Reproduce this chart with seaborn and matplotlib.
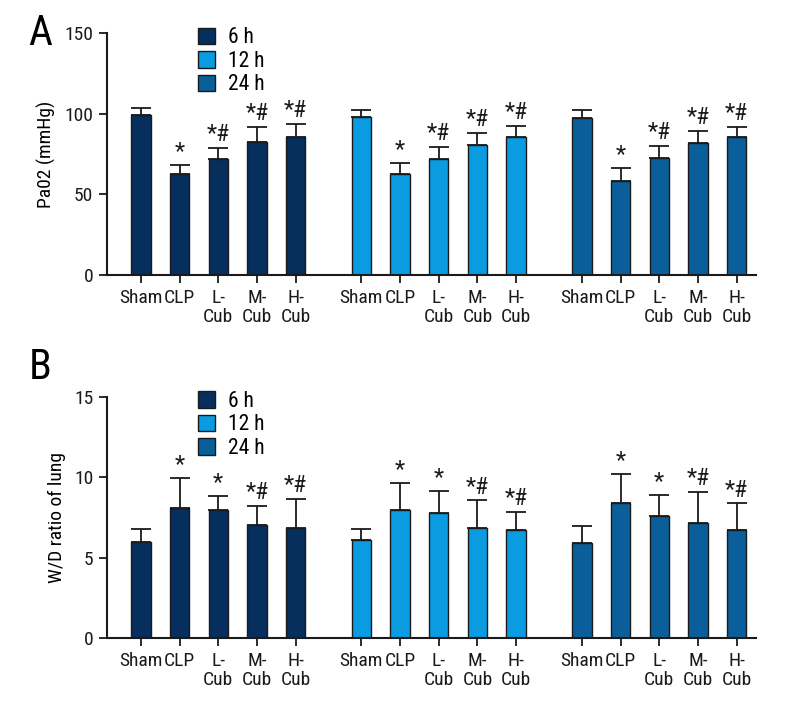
import matplotlib
matplotlib.use('Agg')
import matplotlib.pyplot as plt
from matplotlib.patches import Patch
from matplotlib import font_manager
import numpy as np
import pandas as pd
import seaborn as sns

groups = ['Sham', 'CLP', 'L-Cub', 'M-Cub', 'H-Cub']
tick_labels = ['Sham', 'CLP', 'L-\nCub', 'M-\nCub', 'H-\nCub']
times = ['6 h', '12 h', '24 h']

# Panel A: PaO2 (mmHg), mean and SD per time point
pao2_6h = [99.5, 62.4, 71.8, 82.6, 85.8]
pao2_6h_sd = [4.2, 5.8, 6.8, 9.2, 7.6]
pao2_12h = [98.2, 62.4, 72.1, 80.8, 85.8]
pao2_12h_sd = [4.1, 7.2, 7.5, 7.2, 6.8]
pao2_24h = [97.5, 58.5, 72.3, 81.6, 85.6]
pao2_24h_sd = [4.8, 8.0, 7.5, 7.5, 6.2]
marks_a = ['', '*', '*#', '*#', '*#']

# Panel B: W/D ratio of lung
wd_6h = [5.96, 8.09, 7.93, 7.03, 6.85]
wd_6h_sd = [0.82, 1.87, 0.91, 1.15, 1.78]
wd_12h = [6.12, 7.95, 7.78, 6.85, 6.72]
wd_12h_sd = [0.64, 1.70, 1.33, 1.70, 1.10]
wd_24h = [5.91, 8.40, 7.59, 7.16, 6.70]
wd_24h_sd = [1.06, 1.79, 1.29, 1.89, 1.66]
marks_b = ['', '*', '*', '*#', '*#']

colors = ['#062f5e', '#0a9be0', '#0a5f9b']
group_gap = 5.7

# narrow sans face if one is present, otherwise Roboto
installed = {f.name for f in font_manager.fontManager.ttflist}
families = [f for f in ['Roboto Condensed', 'Liberation Sans Narrow', 'Roboto']
            if f in installed] + ['DejaVu Sans']
plt.rcParams['font.family'] = families


def make_frame(means, sds):
    rows = []
    for t, (m, s) in enumerate(zip(means, sds)):
        for i, g in enumerate(groups):
            rows.append({'time': times[t], 'group': g, 'pos': i + t * group_gap,
                         'mean': m[i], 'sd': s[i]})
    return pd.DataFrame(rows)


def draw_panel(ax, df, marks, ylim, yticks, ylabel, step):
    sns.barplot(data=df, x='pos', y='mean', hue='time', hue_order=times,
                palette=colors, saturation=1, native_scale=True, dodge=False,
                width=0.5, errorbar=None, edgecolor='#1a1a1a', linewidth=1.0,
                ax=ax, legend=False)
    ax.errorbar(df['pos'], df['mean'], yerr=[np.zeros(len(df)), df['sd']],
                fmt='none', ecolor='#1a1a1a', elinewidth=1.3, capsize=7,
                capthick=1.3, zorder=1)
    for _, r in df.iterrows():
        lab = marks[groups.index(r['group'])]
        if lab:
            ax.text(r['pos'], r['mean'] + r['sd'] + step * 0.008, lab,
                    ha='center', va='bottom', fontsize=17, color='#1a1a1a')
    ax.set_xlim(-0.87, 4 + 2 * group_gap + 0.5)
    ax.set_ylim(*ylim)
    ax.set_yticks(yticks)
    ax.set_xticks(df['pos'])
    ax.set_xticklabels(tick_labels * 3, fontsize=14, linespacing=1.05)
    ax.tick_params(axis='both', direction='out', length=6, width=1.3,
                   colors='#1a1a1a', labelsize=14, pad=4)
    ax.set_xlabel('')
    ax.set_ylabel(ylabel, fontsize=14, labelpad=6)
    sns.despine(ax=ax)
    for sp in ['left', 'bottom']:
        ax.spines[sp].set_linewidth(1.5)
        ax.spines[sp].set_color('#1a1a1a')
    handles = [Patch(facecolor=c, edgecolor='#1a1a1a', linewidth=1.0)
               for c in colors]
    ax.legend(handles, times, loc='upper left', bbox_to_anchor=(0.127, 1.06),
              frameon=False, fontsize=15.5, handlelength=0.8, handleheight=0.8,
              handletextpad=0.6, labelspacing=0.12, borderaxespad=0)


fig = plt.figure(figsize=(8, 7.2), dpi=100)
ax_a = fig.add_axes([0.134, 0.618, 0.811, 0.336])
ax_b = fig.add_axes([0.134, 0.114, 0.811, 0.335])

df_a = make_frame([pao2_6h, pao2_12h, pao2_24h],
                  [pao2_6h_sd, pao2_12h_sd, pao2_24h_sd])
df_b = make_frame([wd_6h, wd_12h, wd_24h], [wd_6h_sd, wd_12h_sd, wd_24h_sd])

draw_panel(ax_a, df_a, marks_a, (0, 150), [0, 50, 100, 150], 'Pa02 (mmHg)', 150)
draw_panel(ax_b, df_b, marks_b, (0, 15), [0, 5, 10, 15], 'W/D ratio of lung', 15)

fig.text(0.05, 0.953, 'A', fontsize=30, ha='center', va='center')
fig.text(0.05, 0.489, 'B', fontsize=30, ha='center', va='center')

fig.savefig('out.png', dpi=100, facecolor='white')
